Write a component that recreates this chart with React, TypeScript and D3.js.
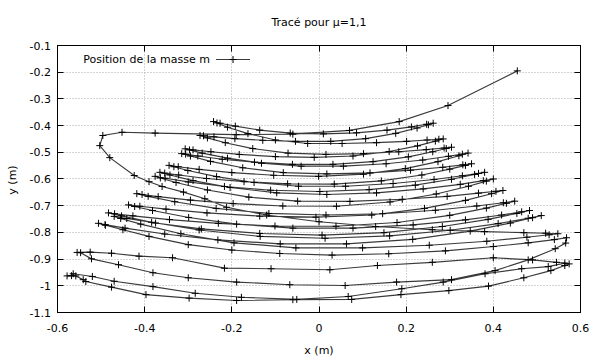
import React from "react";
import * as d3 from "d3";

const W = 600;
const H = 360;

const xTicks = [-0.6, -0.4, -0.2, 0, 0.2, 0.4, 0.6];
const yTicks = [-0.1, -0.2, -0.3, -0.4, -0.5, -0.6, -0.7, -0.8, -0.9, -1, -1.1];

const titleText = "Tracé pour μ=1,1";
const xLabel = "x (m)";
const yLabel = "y (m)";
const legendLabel = "Position de la masse m";

// first swing from the release point and the long diagonal swing
const firstSwings: [number, number][] = [
  [0.455, -0.195], [0.296, -0.325], [0.184, -0.385], [0.07, -0.418], [-0.06, -0.432], [-0.19, -0.434],
  [-0.376, -0.428], [-0.452, -0.425], [-0.496, -0.437], [-0.503, -0.475],
  [-0.48, -0.52], [-0.424, -0.587], [-0.39, -0.61], [-0.36, -0.628], [-0.311, -0.649], [-0.262, -0.674],
  [-0.212, -0.706], [-0.12, -0.735], [0.0, -0.76], [0.13, -0.778], [0.26, -0.79], [0.38, -0.797],
  [0.47, -0.801], [0.52, -0.803], [0.548, -0.805],
];

// swings climbing through the fan
const risingSwings: [number, number][] = [
  [0.528, -0.809], [0.477, -0.818], [0.385, -0.833], [0.253, -0.848], [0.1, -0.858], [-0.053, -0.858], [-0.195, -0.839], [-0.317, -0.805], [-0.409, -0.769], [-0.455, -0.748], [-0.47, -0.74],
  [-0.441, -0.748], [-0.375, -0.765], [-0.27, -0.787], [-0.136, -0.804], [0.007, -0.81], [0.149, -0.801], [0.283, -0.778], [0.388, -0.751], [0.454, -0.729], [0.483, -0.718],
  [0.465, -0.723], [0.419, -0.735], [0.336, -0.753], [0.216, -0.772], [0.078, -0.784], [-0.06, -0.784], [-0.189, -0.769], [-0.299, -0.744], [-0.382, -0.718], [-0.423, -0.703], [-0.437, -0.697],
  [-0.411, -0.702], [-0.351, -0.713], [-0.257, -0.727], [-0.136, -0.739], [-0.007, -0.743], [0.121, -0.735], [0.242, -0.71], [0.336, -0.68], [0.396, -0.655], [0.422, -0.643],
  [0.406, -0.646], [0.366, -0.653], [0.294, -0.665], [0.191, -0.676], [0.071, -0.684], [-0.049, -0.683], [-0.161, -0.668], [-0.256, -0.641], [-0.328, -0.613], [-0.364, -0.596], [-0.376, -0.59],
  [-0.353, -0.597], [-0.3, -0.611], [-0.217, -0.628], [-0.111, -0.642], [0.002, -0.647], [0.115, -0.64], [0.221, -0.623], [0.304, -0.601], [0.357, -0.583], [0.38, -0.575],
  [0.366, -0.579], [0.329, -0.588], [0.264, -0.602], [0.17, -0.617], [0.061, -0.627], [-0.047, -0.627], [-0.149, -0.613], [-0.235, -0.591], [-0.301, -0.568], [-0.333, -0.554], [-0.344, -0.549],
  [-0.323, -0.554], [-0.275, -0.564], [-0.2, -0.576], [-0.104, -0.586], [-0.001, -0.59], [0.102, -0.582], [0.198, -0.561], [0.273, -0.535], [0.321, -0.513], [0.342, -0.503],
  [0.329, -0.507], [0.297, -0.515], [0.238, -0.529], [0.154, -0.543], [0.056, -0.552], [-0.041, -0.552], [-0.132, -0.541], [-0.21, -0.522], [-0.268, -0.503], [-0.297, -0.491], [-0.307, -0.487],
  [-0.289, -0.491], [-0.248, -0.498], [-0.183, -0.508], [-0.1, -0.516], [-0.011, -0.519], [0.078, -0.514], [0.161, -0.497], [0.226, -0.476], [0.267, -0.458], [0.285, -0.45],
  [0.275, -0.451], [0.248, -0.454], [0.201, -0.459], [0.132, -0.464], [0.053, -0.467], [-0.026, -0.467], [-0.1, -0.454], [-0.163, -0.43], [-0.21, -0.406], [-0.234, -0.39], [-0.242, -0.385],
  [-0.227, -0.391], [-0.192, -0.402], [-0.136, -0.417], [-0.066, -0.428], [0.01, -0.431], [0.086, -0.427], [0.156, -0.417], [0.212, -0.405], [0.247, -0.395], [0.262, -0.391],
];

// swings descending back through the fan
const fallingSwings: [number, number][] = [
  [0.251, -0.397], [0.225, -0.409], [0.176, -0.429], [0.107, -0.449], [0.027, -0.459], [-0.054, -0.459], [-0.129, -0.455], [-0.193, -0.449], [-0.241, -0.442], [-0.265, -0.438], [-0.273, -0.437],
  [-0.256, -0.446], [-0.215, -0.464], [-0.152, -0.486], [-0.071, -0.503], [0.016, -0.508], [0.102, -0.505], [0.183, -0.498], [0.246, -0.49], [0.287, -0.484], [0.304, -0.481],
  [0.292, -0.486], [0.261, -0.498], [0.205, -0.517], [0.124, -0.535], [0.032, -0.545], [-0.061, -0.545], [-0.148, -0.537], [-0.222, -0.526], [-0.278, -0.514], [-0.306, -0.507], [-0.315, -0.505],
  [-0.295, -0.514], [-0.249, -0.534], [-0.175, -0.558], [-0.082, -0.576], [0.018, -0.581], [0.117, -0.577], [0.21, -0.567], [0.284, -0.556], [0.33, -0.547], [0.35, -0.543],
  [0.336, -0.549], [0.3, -0.563], [0.236, -0.585], [0.143, -0.607], [0.035, -0.619], [-0.072, -0.618], [-0.172, -0.61], [-0.258, -0.598], [-0.322, -0.585], [-0.354, -0.578], [-0.365, -0.575],
  [-0.342, -0.585], [-0.289, -0.606], [-0.204, -0.632], [-0.097, -0.652], [0.018, -0.658], [0.132, -0.652], [0.239, -0.637], [0.324, -0.62], [0.377, -0.606], [0.4, -0.6],
  [0.384, -0.608], [0.343, -0.627], [0.269, -0.656], [0.163, -0.686], [0.04, -0.702], [-0.083, -0.701], [-0.197, -0.692], [-0.295, -0.679], [-0.369, -0.666], [-0.406, -0.658], [-0.418, -0.655],
  [-0.392, -0.665], [-0.331, -0.685], [-0.236, -0.71], [-0.115, -0.729], [0.016, -0.735], [0.146, -0.73], [0.267, -0.717], [0.362, -0.701], [0.423, -0.689], [0.449, -0.683],
  [0.43, -0.691], [0.384, -0.709], [0.3, -0.736], [0.179, -0.763], [0.039, -0.777], [-0.101, -0.776], [-0.231, -0.766], [-0.343, -0.752], [-0.427, -0.738], [-0.469, -0.73], [-0.483, -0.727],
  [-0.453, -0.738], [-0.384, -0.762], [-0.275, -0.791], [-0.135, -0.815], [0.014, -0.822], [0.162, -0.813], [0.301, -0.792], [0.411, -0.767], [0.48, -0.747], [0.51, -0.737],
  [0.49, -0.745], [0.439, -0.765], [0.347, -0.795], [0.215, -0.826], [0.063, -0.843], [-0.089, -0.843], [-0.232, -0.828], [-0.354, -0.806], [-0.445, -0.784], [-0.491, -0.771], [-0.506, -0.766],
];

// widest swings at the bottom
const bottomSwings: [number, number][] = [
  [-0.49, -0.773], [-0.45, -0.79], [-0.39, -0.815], [-0.3, -0.846], [-0.2, -0.866], [-0.09, -0.879], [0.03, -0.885], [0.16, -0.88], [0.29, -0.869], [0.4, -0.853], [0.48, -0.839], [0.54, -0.827], [0.568, -0.82],
  [0.566, -0.84], [0.542, -0.861], [0.48, -0.903], [0.404, -0.943], [0.304, -0.977], [0.178, -0.986], [0.06, -0.999], [-0.067, -0.996], [-0.189, -0.986], [-0.3, -0.97], [-0.381, -0.951], [-0.46, -0.921], [-0.522, -0.899], [-0.547, -0.876], [-0.555, -0.875],
  [-0.525, -0.874], [-0.476, -0.878], [-0.413, -0.889], [-0.336, -0.895], [-0.217, -0.934], [-0.11, -0.936], [0.025, -0.94], [0.134, -0.924], [0.26, -0.912], [0.4, -0.895], [0.49, -0.903], [0.545, -0.912], [0.574, -0.918],
  [0.564, -0.924], [0.532, -0.943], [0.47, -0.97], [0.389, -1.001], [0.298, -1.018], [0.188, -1.033], [0.075, -1.051], [-0.06, -1.052], [-0.189, -1.055], [-0.298, -1.046], [-0.397, -1.033], [-0.476, -1.005], [-0.535, -0.984], [-0.541, -0.977], [-0.558, -0.963], [-0.578, -0.963],
  [-0.568, -0.962], [-0.564, -0.955], [-0.52, -0.965], [-0.47, -0.983], [-0.381, -1.003], [-0.284, -1.028], [-0.178, -1.043], [-0.051, -1.051], [0.067, -1.04], [0.19, -1.011], [0.285, -0.986], [0.381, -0.955], [0.465, -0.936], [0.526, -0.928], [0.564, -0.915],
];

const trajectory = [...firstSwings, ...risingSwings, ...fallingSwings, ...bottomSwings];

const FONT = "'DejaVu Sans', Verdana, sans-serif";

export default function App() {
  const left = 57.5, right = 580.5, top = 45.5, bottom = 312.5;
  const x = d3.scaleLinear().domain([-0.6, 0.6]).range([left, right]);
  const y = d3.scaleLinear().domain([-1.1, -0.1]).range([bottom, top]);
  const line = d3.line<[number, number]>().x((d) => x(d[0])).y((d) => y(d[1]));
  const px = (v: number) => Math.round(x(v) - 0.5) + 0.5;
  const py = (v: number) => Math.round(y(v) - 0.5) + 0.5;
  const tl = 6;
  const m = 3.5;
  const plus = (cx: number, cy: number) => `M${cx - m},${cy}h${2 * m}M${cx},${cy - m}v${2 * m}`;
  const markerPath = trajectory.map((d) => plus(x(d[0]), y(d[1]))).join("");

  return (
    <svg width={W} height={H} style={{ position: "absolute", left: 0, top: 0, background: "#fff" }} fontFamily={FONT}>
      <rect x={0} y={0} width={W} height={H} fill="#fff" />
      {/* grid */}
      <g stroke="#a8a8a8" strokeWidth={1} strokeDasharray="1,2">
        {xTicks.slice(1, -1).map((t) => (
          <line key={"gx" + t} x1={px(t)} x2={px(t)} y1={top} y2={bottom} />
        ))}
        {yTicks.slice(1, -1).map((t) => (
          <line key={"gy" + t} x1={left} x2={right} y1={py(t)} y2={py(t)} />
        ))}
      </g>
      {/* ticks */}
      <g stroke="#000" strokeWidth={1}>
        {xTicks.map((t) => (
          <g key={"tx" + t}>
            <line x1={px(t)} x2={px(t)} y1={bottom} y2={bottom - tl} />
            <line x1={px(t)} x2={px(t)} y1={top} y2={top + tl} />
          </g>
        ))}
        {yTicks.map((t) => (
          <g key={"ty" + t}>
            <line x1={left} x2={left + tl} y1={py(t)} y2={py(t)} />
            <line x1={right} x2={right - tl} y1={py(t)} y2={py(t)} />
          </g>
        ))}
      </g>
      {/* tick labels */}
      <g fontSize={11} fill="#000">
        {xTicks.map((t) => (
          <text key={"lx" + t} x={x(t)} y={332} textAnchor="middle">
            {d3.format("")(t).replace("−", "-")}
          </text>
        ))}
        {yTicks.map((t) => (
          <text key={"ly" + t} x={51} y={y(t) + 4} textAnchor="end">
            {d3.format("")(t).replace("−", "-")}
          </text>
        ))}
      </g>
      {/* trajectory */}
      <path d={line(trajectory) || ""} fill="none" stroke="#3a3a3a" strokeWidth={1.15} />
      <path d={markerPath} fill="none" stroke="#000" strokeWidth={1} />
      {/* legend */}
      <text x={210} y={63} fontSize={11} textAnchor="end" fill="#000">{legendLabel}</text>
      <line x1={216} x2={250} y1={59.5} y2={59.5} stroke="#3a3a3a" strokeWidth={1.15} />
      <path d={plus(233, 59.5)} stroke="#000" strokeWidth={1} />
      {/* frame */}
      <rect x={left} y={top} width={right - left} height={bottom - top} fill="none" stroke="#000" strokeWidth={1} />
      {/* titles */}
      <text x={319} y={26} fontSize={11} textAnchor="middle" fill="#000">{titleText}</text>
      <text x={319} y={354} fontSize={11} textAnchor="middle" fill="#000">{xLabel}</text>
      <text transform={`translate(16,180) rotate(-90)`} fontSize={11} textAnchor="middle" fill="#000">{yLabel}</text>
    </svg>
  );
}
